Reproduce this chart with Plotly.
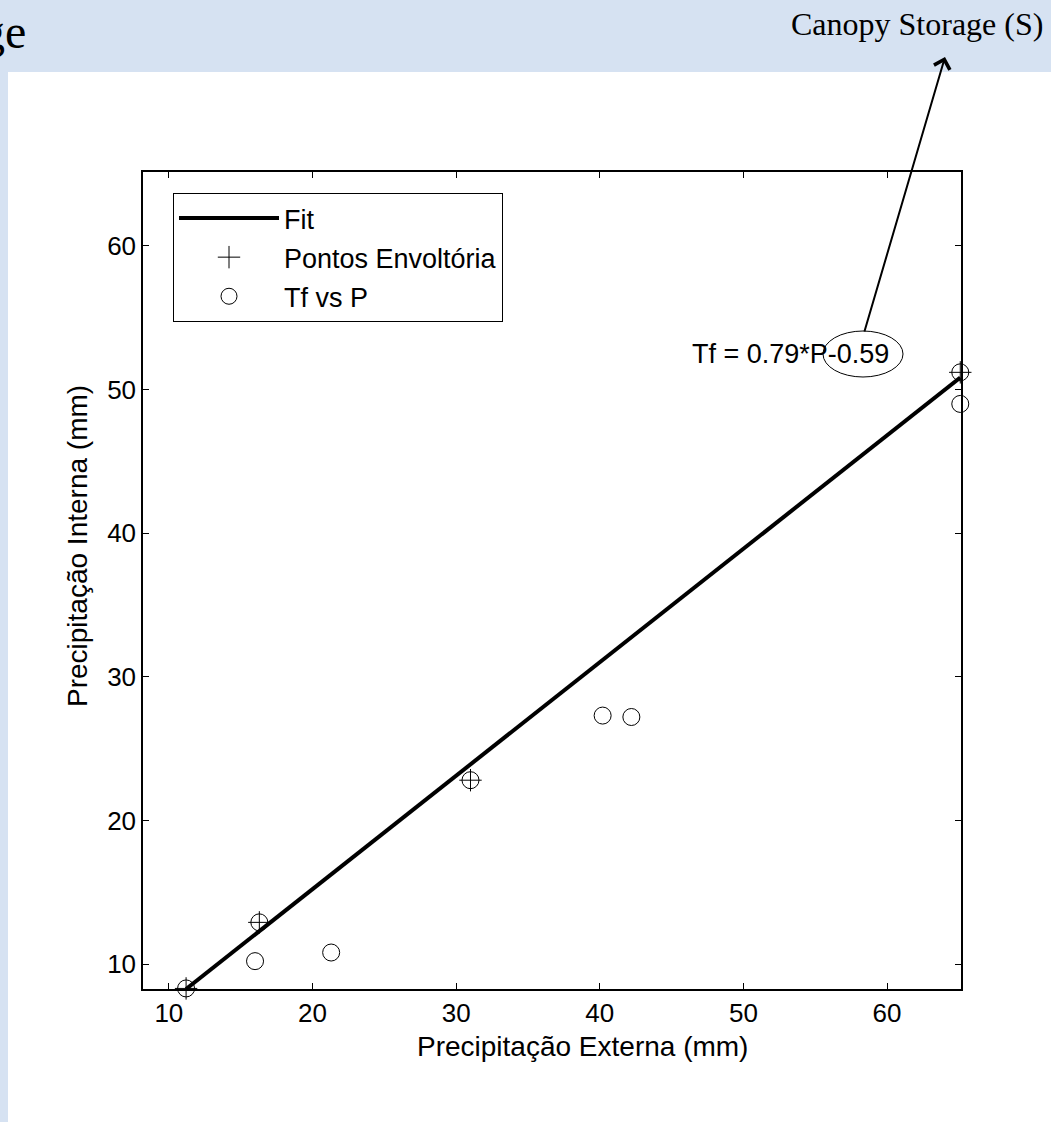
import plotly.graph_objects as go

# ---- data ----
P_obs = [11.2, 16.0, 16.3, 21.3, 31.0, 40.2, 42.2, 65.1, 65.1]
Tf_obs = [8.3, 10.2, 12.9, 10.8, 22.8, 27.3, 27.2, 51.2, 49.0]

P_env = [11.2, 16.3, 31.0, 65.1]
Tf_env = [8.3, 12.9, 22.8, 51.2]

fit_P = [11.2, 65.1]
fit_Tf = [8.26, 50.84]

x_ticks = [10, 20, 30, 40, 50, 60]
y_ticks = [10, 20, 30, 40, 50, 60]
x_range = [8.2, 65.15]
y_range = [8.26, 65.15]

W, H = 1051, 1122
L, R, T, B = 143, 90, 172, 133
PW, PH = W - L - R, H - T - B


def px(xp):
    return (xp - L) / PW


def py(yp):
    return (H - B - yp) / PH


BAND = "rgb(214,226,242)"
FONT = "Liberation Sans, Arial, sans-serif"
SERIF = "Liberation Serif, Times New Roman, serif"

fig = go.Figure()
fig.add_trace(go.Scatter(x=fit_P, y=fit_Tf, mode="lines", name="Fit",
                         line=dict(color="black", width=4), legendgroup="a"))
fig.add_trace(go.Scatter(x=P_env, y=Tf_env, mode="markers", name="Pontos Envoltória",
                         marker=dict(symbol="cross-thin", size=16, color="black",
                                     line=dict(color="black", width=1)),
                         legendgroup="b", cliponaxis=False))
fig.add_trace(go.Scatter(x=P_obs, y=Tf_obs, mode="markers", name="Tf vs P",
                         marker=dict(symbol="circle-open", size=17, color="black",
                                     line=dict(color="black", width=1)),
                         legendgroup="c", cliponaxis=False))

axis_common = dict(showline=True, linecolor="black", linewidth=1.5, mirror="ticks",
                   ticks="inside", ticklen=6, tickwidth=1, tickcolor="black",
                   showgrid=False, zeroline=False,
                   tickfont=dict(family=FONT, size=26, color="black"))

fig.update_xaxes(range=x_range, tickvals=x_ticks, **axis_common)
fig.update_yaxes(range=y_range, tickvals=y_ticks, **axis_common)

shapes = [
    dict(type="rect", xref="paper", yref="paper", x0=px(0), x1=px(W), y0=py(72), y1=py(0),
         fillcolor=BAND, line=dict(width=0), layer="below"),
    dict(type="rect", xref="paper", yref="paper", x0=px(0), x1=px(8), y0=py(H), y1=py(0),
         fillcolor=BAND, line=dict(width=0), layer="below"),
    dict(type="circle", xref="paper", yref="paper", x0=px(823), x1=px(903), y0=py(377), y1=py(331),
         line=dict(color="black", width=1)),
]


def txt(text, x, y, size, family=FONT, **kw):
    d = dict(text=text, xref="paper", yref="paper", x=px(x), y=py(y),
             xanchor=kw.pop("xanchor", "center"), yanchor="middle",
             showarrow=False, font=dict(family=family, size=size, color="black"))
    d.update(kw)
    return d


annotations = [
    txt("Precipitação Externa (mm)", 582, 1046, 28),
    txt("Precipitação Interna (mm)", 77, 546, 28, textangle=-90),
    txt("Tf = 0.79*P-0.59", 790, 354, 27),
    txt("Canopy Storage (S)", 1045, 24, 32, family=SERIF, xanchor="right"),
    txt("ge", 28, 32, 48, family=SERIF, xanchor="right"),
    dict(text="", xref="paper", yref="paper", x=px(945), y=py(57), ax=-81, ay=276,
         showarrow=True, arrowhead=4, arrowsize=1.6, arrowwidth=2, arrowcolor="black"),
]

fig.update_layout(
    width=W, height=H,
    margin=dict(l=L, r=R, t=T, b=B, autoexpand=False),
    paper_bgcolor="white", plot_bgcolor="white",
    shapes=shapes, annotations=annotations,
    showlegend=True,
    legend=dict(x=px(173), y=py(193), xanchor="left", yanchor="top",
                bgcolor="white", bordercolor="black", borderwidth=1,
                font=dict(family=FONT, size=27, color="black"),
                itemwidth=100, traceorder="grouped", tracegroupgap=1,
                entrywidth=240, entrywidthmode="pixels"),
)

fig.write_html("out.html")
